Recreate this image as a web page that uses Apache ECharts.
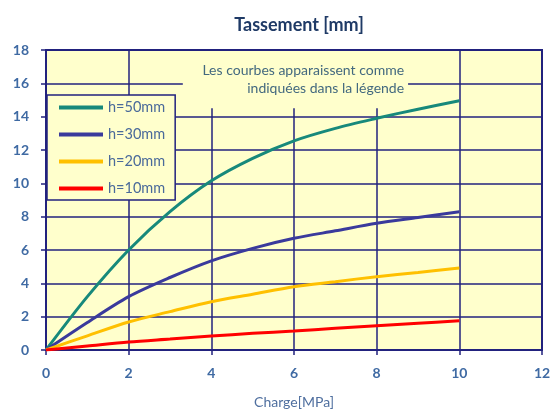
<!DOCTYPE html>
<html><head><meta charset="utf-8">
<script src="https://cdn.jsdelivr.net/npm/echarts@6/dist/echarts.min.js"></script>
<style>html,body{margin:0;padding:0;background:#fff}#c{width:560px;height:414px}</style>
</head><body><div id="c"></div>
<script>
const charge = [0, 1, 2, 3, 4, 5, 6, 7, 8, 9, 10];
const h50 = [0, 3.2, 6.0, 8.3, 10.15, 11.5, 12.55, 13.3, 13.9, 14.45, 14.95];
const h30 = [0, 1.65, 3.2, 4.35, 5.35, 6.1, 6.7, 7.15, 7.6, 7.95, 8.3];
const h20 = [0, 0.85, 1.68, 2.3, 2.9, 3.35, 3.8, 4.1, 4.4, 4.65, 4.92];
const h10 = [0, 0.24, 0.48, 0.66, 0.84, 1.0, 1.14, 1.3, 1.45, 1.6, 1.75];
const seriesNames = ['h=50mm', 'h=30mm', 'h=20mm', 'h=10mm'];
const seriesColors = ['#17897b', '#3a3a9c', '#ffc000', '#ff0000'];
const seriesValues = [h50, h30, h20, h10];
const noteLines = ['Les courbes apparaissent comme', 'indiquées dans la légende'];

const navy = '#22227e';
const labelBlue = '#3f6aa3';
const FONT = 'Lato';

const chart = echarts.init(document.getElementById('c'), null, {renderer: 'canvas'});
const option = {
  animation: false,
  backgroundColor: '#fff',
  textStyle: {fontFamily: FONT},
  title: {
    text: 'Tassement [mm]', left: 294, top: 11, textAlign: 'center',
    textStyle: {fontFamily: FONT, fontSize: 18, fontWeight: 'bold', color: '#1f3a66'}
  },
  grid: {left: 46, right: 18, top: 50, bottom: 64, show: true, backgroundColor: '#ffffcc',
    borderColor: navy, borderWidth: 2},
  legend: {
    orient: 'vertical', left: 47, top: 95, itemWidth: 44, itemHeight: 4, itemGap: 12,
    icon: 'path://M0,0 H44 V4 H0 Z',
    padding: [5, 10, 4, 12], backgroundColor: '#ffffcc', borderColor: navy, borderWidth: 1.5,
    borderRadius: 0,
    textStyle: {fontFamily: FONT, fontSize: 14.5, lineHeight: 14, color: '#4a6a9a'},
    data: seriesNames
  },
  xAxis: {
    type: 'value', min: 0, max: 12, interval: 2,
    name: 'Charge[MPa]', nameLocation: 'middle', nameGap: 45,
    nameTextStyle: {fontFamily: FONT, fontSize: 14, color: '#4f6f9f'},
    axisLine: {show: true, onZero: false, lineStyle: {color: navy, width: 2}},
    axisTick: {show: true, inside: false, length: 5, lineStyle: {color: navy, width: 1.5}},
    axisLabel: {margin: 16, fontFamily: FONT, fontSize: 14, fontWeight: 'bold', color: labelBlue},
    splitLine: {show: true, lineStyle: {color: navy, width: 1.5}}
  },
  yAxis: {
    type: 'value', min: 0, max: 18, interval: 2,
    axisLine: {show: true, lineStyle: {color: navy, width: 2}},
    axisTick: {show: true, inside: false, length: 5, lineStyle: {color: navy, width: 1.5}},
    axisLabel: {margin: 17, fontFamily: FONT, fontSize: 14, fontWeight: 'bold', color: labelBlue},
    splitLine: {show: true, lineStyle: {color: navy, width: 1.5}}
  },
  series: seriesNames.map((n, i) => ({
    name: n, type: 'line', smooth: 0.3, symbol: 'none', z: 3,
    color: seriesColors[i],
    lineStyle: {color: seriesColors[i], width: 3},
    data: charge.map((x, j) => [x, seriesValues[i][j]])
  }))
};
chart.setOption(option);

// annotation box that hides grid lines behind the note
const p1 = chart.convertToPixel({gridIndex: 0}, [3.31, 18]);
const p2 = chart.convertToPixel({gridIndex: 0}, [8.76, 14.5]);
chart.setOption({
  graphic: [
    {type: 'rect', z: 1, shape: {x: p1[0], y: p1[1] + 1, width: p2[0] - p1[0], height: p2[1] - p1[1] - 1},
      style: {fill: '#ffffcc'}},
    {type: 'text', z: 2, x: p2[0] - 4, y: p1[1] + 20,
      style: {text: noteLines[0], fontFamily: FONT, fontSize: 14, fill: '#43697f', align: 'right', verticalAlign: 'middle'}},
    {type: 'text', z: 2, x: p2[0] - 4, y: p1[1] + 38,
      style: {text: noteLines[1], fontFamily: FONT, fontSize: 14, fill: '#43697f', align: 'right', verticalAlign: 'middle'}}
  ]
});
</script></body></html>
